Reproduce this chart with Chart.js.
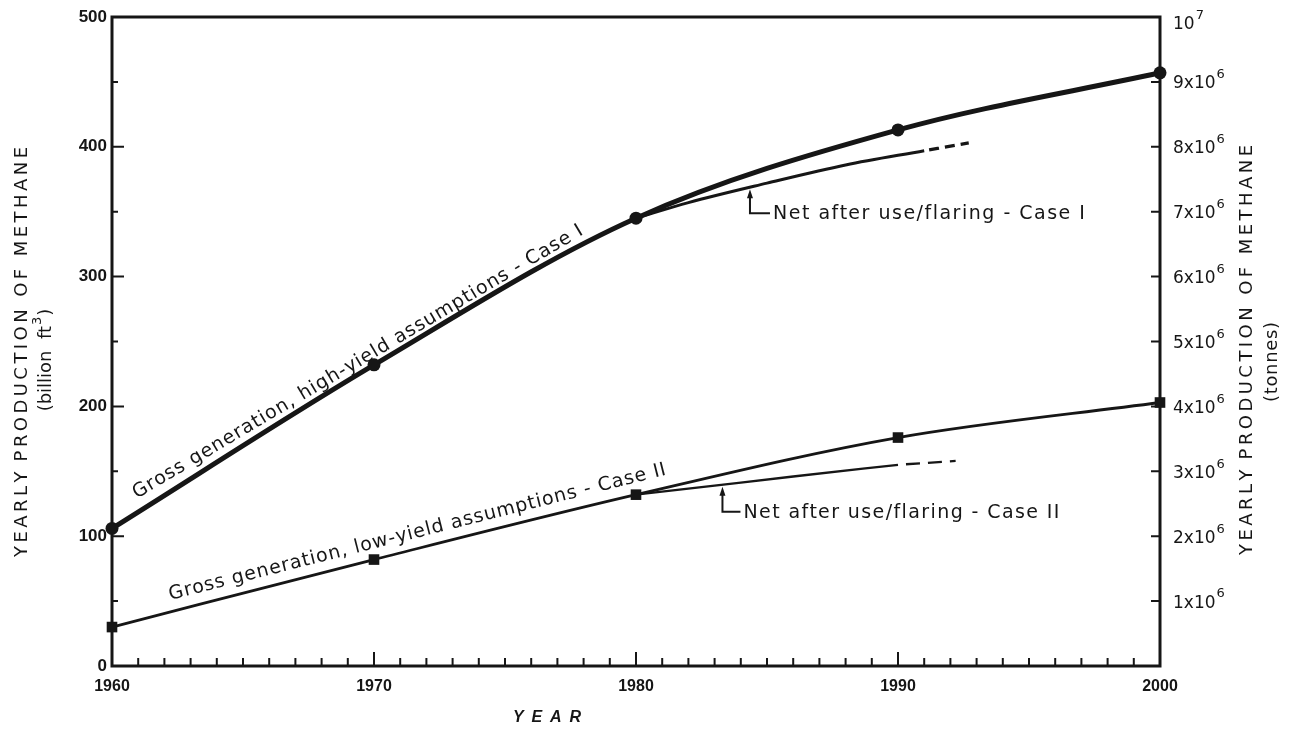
<!DOCTYPE html>
<html>
<head>
<meta charset="utf-8">
<script src="https://cdn.jsdelivr.net/npm/chart.js@4.4.1/dist/chart.umd.min.js"></script>
<style>
  html, body { margin: 0; padding: 0; background: #ffffff; }
  #wrap { width: 1292px; height: 729px; position: relative; }
</style>
</head>
<body>
<div id="wrap"><canvas id="chart" width="1292" height="729"></canvas></div>
<script>
// ---- data -------------------------------------------------------------
const years = [1960, 1970, 1980, 1990, 2000];
const grossCaseI  = [106, 232, 345, 413, 457];   // billion ft3, high-yield
const grossCaseII = [30, 82, 132, 176, 203];     // billion ft3, low-yield

const netCaseIYears      = [1980, 1982, 1985, 1988, 1991];
const netCaseI           = [345, 357, 372, 386, 397];
const netCaseIProjYears  = [1991, 1992.7];
const netCaseIProj       = [397, 403];

const netCaseIIYears     = [1980, 1983, 1986, 1990];
const netCaseII          = [132, 139, 146, 155];
const netCaseIIProjYears = [1990, 1992.2];
const netCaseIIProj      = [155, 158];

// tick labels
const yearLabels    = [1960, 1970, 1980, 1990, 2000];
const billionLabels = [0, 100, 200, 300, 400, 500];
const tonneLabels   = [1e6, 2e6, 3e6, 4e6, 5e6, 6e6, 7e6, 8e6, 9e6, 1e7];

// ---- helpers ----------------------------------------------------------
const pts = (xs, ys) => xs.map((x, i) => ({ x: x, y: ys[i] }));

function lerpSeries(xs, ys, x) {
  for (let i = 0; i < xs.length - 1; i++) {
    if (x >= xs[i] && x <= xs[i + 1]) {
      const t = (x - xs[i]) / (xs[i + 1] - xs[i]);
      return ys[i] + t * (ys[i + 1] - ys[i]);
    }
  }
  return ys[ys.length - 1];
}

// draw text spread to a given width, starting at (x0, y) in current transform
function spreadText(ctx, text, x0, y, width) {
  const chars = Array.from(text);
  const natural = ctx.measureText(text).width;
  const gap = chars.length > 1 ? (width - natural) / (chars.length - 1) : 0;
  let prefix = '';
  chars.forEach((ch, i) => {
    const x = x0 + ctx.measureText(prefix).width + i * gap;
    ctx.fillText(ch, x, y);
    prefix += ch;
  });
}

const INK = '#161616';
const SANS = '"DejaVu Sans", sans-serif';

// ---- frame, inward tick marks, right-hand tonne labels -----------------
const framePlugin = {
  id: 'frame',
  beforeDatasetsDraw(chart) {
    const { ctx, chartArea: a, scales } = chart;
    ctx.save();
    ctx.strokeStyle = INK;
    ctx.lineCap = 'square';
    ctx.lineWidth = 3;
    ctx.strokeRect(a.left, a.top, a.right - a.left, a.bottom - a.top);

    ctx.lineWidth = 2;
    ctx.beginPath();
    // year ticks along the bottom, pointing up
    for (let yr = 1961; yr < 2000; yr++) {
      const x = scales.x.getPixelForValue(yr);
      const len = yr % 10 === 0 ? 13 : 7;
      ctx.moveTo(x, a.bottom);
      ctx.lineTo(x, a.bottom - len);
    }
    // left axis ticks every 50
    for (let v = 50; v < 500; v += 50) {
      const y = scales.y.getPixelForValue(v);
      const len = v % 100 === 0 ? 11 : 5;
      ctx.moveTo(a.left, y);
      ctx.lineTo(a.left + len, y);
    }
    // right axis ticks every 1e6
    for (let m = 1; m < 10; m++) {
      const y = scales.y2.getPixelForValue(m * 1e6);
      ctx.moveTo(a.right, y);
      ctx.lineTo(a.right - 8, y);
    }
    ctx.stroke();

    // tonne labels with raised exponents
    ctx.fillStyle = INK;
    ctx.textAlign = 'left';
    ctx.textBaseline = 'middle';
    tonneLabels.forEach((v) => {
      const m = Math.round(v / 1e6);
      const base = m === 10 ? '10' : m + 'x10';
      const exp = m === 10 ? '7' : '6';
      const y = scales.y2.getPixelForValue(v) + (m === 10 ? 8 : 2);
      const x0 = a.right + 13;
      ctx.font = '17px ' + SANS;
      ctx.fillText(base, x0, y);
      const w = ctx.measureText(base).width;
      ctx.font = '13px ' + SANS;
      ctx.fillText(exp, x0 + w + 1, y - 9);
    });
    ctx.restore();
  }
};

// ---- curve labels, leaders and axis titles ----------------------------
const labelPlugin = {
  id: 'labels',
  afterDatasetsDraw(chart) {
    const { ctx, scales } = chart;
    const px = (x, y) => ({ x: scales.x.getPixelForValue(x), y: scales.y.getPixelForValue(y) });
    ctx.save();
    ctx.fillStyle = INK;
    ctx.strokeStyle = INK;

    // text written along a gross-generation curve
    function alongCurve(text, ys, yearMid, lift, width) {
      const p1 = px(1960, ys[0]);
      const p2 = px(1980, ys[2]);
      const ang = Math.atan2(p2.y - p1.y, p2.x - p1.x);
      const c = px(yearMid, lerpSeries(years, ys, yearMid));
      ctx.save();
      ctx.translate(c.x, c.y);
      ctx.rotate(ang);
      ctx.font = '19px ' + SANS;
      ctx.textBaseline = 'alphabetic';
      ctx.textAlign = 'left';
      spreadText(ctx, text, -width / 2, -lift, width);
      ctx.restore();
    }
    alongCurve('Gross generation, high-yield assumptions - Case I', grossCaseI, 1969.6, 6, 520);
    alongCurve('Gross generation, low-yield assumptions - Case II', grossCaseII, 1971.8, 11, 512);

    // leader from a net curve to its caption
    function leader(text, xs, ys, year, drop, run, width) {
      const tip = px(year, lerpSeries(xs, ys, year));
      const tipY = tip.y + 2;
      const baseY = tipY + drop;
      ctx.lineWidth = 2;
      ctx.beginPath();
      ctx.moveTo(tip.x, tipY + 5);
      ctx.lineTo(tip.x, baseY);
      ctx.lineTo(tip.x + run, baseY);
      ctx.stroke();
      ctx.beginPath();
      ctx.moveTo(tip.x, tipY);
      ctx.lineTo(tip.x - 3, tipY + 9);
      ctx.lineTo(tip.x + 3, tipY + 9);
      ctx.closePath();
      ctx.fill();
      ctx.font = '19px ' + SANS;
      ctx.textBaseline = 'middle';
      ctx.textAlign = 'left';
      spreadText(ctx, text, tip.x + run + 3, baseY + 1, width);
    }
    leader('Net after use/flaring - Case I', netCaseIYears, netCaseI, 1984.35, 24, 20, 312);
    leader('Net after use/flaring - Case II', netCaseIIYears, netCaseII, 1983.3, 25, 18, 316);

    // axis titles
    function vertical(text, cx, cy, width, font) {
      ctx.save();
      ctx.translate(cx, cy);
      ctx.rotate(-Math.PI / 2);
      ctx.font = font;
      ctx.textBaseline = 'middle';
      ctx.textAlign = 'left';
      spreadText(ctx, text, -width / 2, 0, width);
      ctx.restore();
    }
    const tf = '18px ' + SANS;
    vertical('YEARLY PRODUCTION OF METHANE', 22, 352, 410, tf);
    vertical('YEARLY PRODUCTION OF METHANE', 1247, 350, 410, tf);
    vertical('(tonnes)', 1272, 362, 80, tf);

    // "(billion ft3)" with a raised exponent
    ctx.save();
    ctx.translate(46, 360);
    ctx.rotate(-Math.PI / 2);
    ctx.textBaseline = 'middle';
    ctx.textAlign = 'left';
    ctx.font = tf;
    const partA = '(billion  ft';
    const wA = ctx.measureText(partA).width;
    const wP = ctx.measureText(')').width;
    ctx.font = '13px ' + SANS;
    const wE = ctx.measureText('3').width;
    let x0 = -(wA + wE + wP + 2) / 2;
    ctx.font = tf;
    ctx.fillText(partA, x0, 0);
    ctx.font = '13px ' + SANS;
    ctx.fillText('3', x0 + wA + 1, -8);
    ctx.font = tf;
    ctx.fillText(')', x0 + wA + wE + 2, 0);
    ctx.restore();

    ctx.font = 'italic bold 16px "Liberation Sans", Arial, sans-serif';
    ctx.textBaseline = 'middle';
    ctx.textAlign = 'left';
    spreadText(ctx, 'YEAR', 547 - 34, 718, 68);

    ctx.restore();
  }
};

// ---- chart -------------------------------------------------------------
const lineBase = {
  borderColor: INK,
  backgroundColor: INK,
  pointBackgroundColor: INK,
  pointBorderColor: INK,
  pointBorderWidth: 0,
  cubicInterpolationMode: 'monotone',
  fill: false,
  clip: false,
  yAxisID: 'y'
};

new Chart(document.getElementById('chart'), {
  type: 'line',
  data: {
    datasets: [
      Object.assign({}, lineBase, {
        label: 'Gross generation, high-yield assumptions - Case I',
        data: pts(years, grossCaseI),
        borderWidth: 5,
        pointStyle: 'circle',
        pointRadius: 6.5
      }),
      Object.assign({}, lineBase, {
        label: 'Gross generation, low-yield assumptions - Case II',
        data: pts(years, grossCaseII),
        borderWidth: 2.8,
        pointStyle: 'rect',
        pointRadius: 7.5
      }),
      Object.assign({}, lineBase, {
        label: 'Net after use/flaring - Case I',
        data: pts(netCaseIYears, netCaseI),
        borderWidth: 3,
        pointRadius: 0
      }),
      Object.assign({}, lineBase, {
        label: 'Net after use/flaring - Case I (projected)',
        data: pts(netCaseIProjYears, netCaseIProj),
        borderWidth: 3.2,
        borderDash: [10, 6],
        borderDashOffset: -5,
        pointRadius: 0
      }),
      Object.assign({}, lineBase, {
        label: 'Net after use/flaring - Case II',
        data: pts(netCaseIIYears, netCaseII),
        borderWidth: 2.3,
        pointRadius: 0
      }),
      Object.assign({}, lineBase, {
        label: 'Net after use/flaring - Case II (projected)',
        data: pts(netCaseIIProjYears, netCaseIIProj),
        borderWidth: 2.3,
        borderDash: [14, 8],
        borderDashOffset: -8,
        pointRadius: 0
      })
    ]
  },
  options: {
    responsive: false,
    animation: false,
    events: [],
    layout: { padding: { top: 17, left: 0, right: 0, bottom: 0 } },
    plugins: {
      legend: { display: false },
      tooltip: { enabled: false },
      title: { display: false }
    },
    scales: {
      x: {
        type: 'linear',
        position: 'bottom',
        min: 1960,
        max: 2000,
        afterFit: (s) => { s.height = 63; },
        grid: { display: false, drawTicks: false },
        border: { display: false },
        ticks: {
          stepSize: 1,
          autoSkip: false,
          maxRotation: 0,
          padding: 11,
          color: INK,
          font: { family: '"Liberation Sans", Arial, sans-serif', size: 16, weight: 'bold' },
          callback: (v) => (yearLabels.includes(v) ? String(v) : '')
        }
      },
      y: {
        position: 'left',
        min: 0,
        max: 500,
        afterFit: (s) => { s.width = 112; },
        grid: { display: false, drawTicks: false },
        border: { display: false },
        ticks: {
          stepSize: 50,
          autoSkip: false,
          padding: 5,
          color: INK,
          font: { family: '"Liberation Sans", Arial, sans-serif', size: 17, weight: 'bold' },
          callback: (v) => (billionLabels.includes(v) ? String(v) : '')
        }
      },
      y2: {
        position: 'right',
        min: 0,
        max: 1e7,
        afterFit: (s) => { s.width = 132; },
        grid: { display: false, drawTicks: false },
        border: { display: false },
        ticks: { display: false, stepSize: 1e6 }
      }
    }
  },
  plugins: [framePlugin, labelPlugin]
});
</script>
</body>
</html>
